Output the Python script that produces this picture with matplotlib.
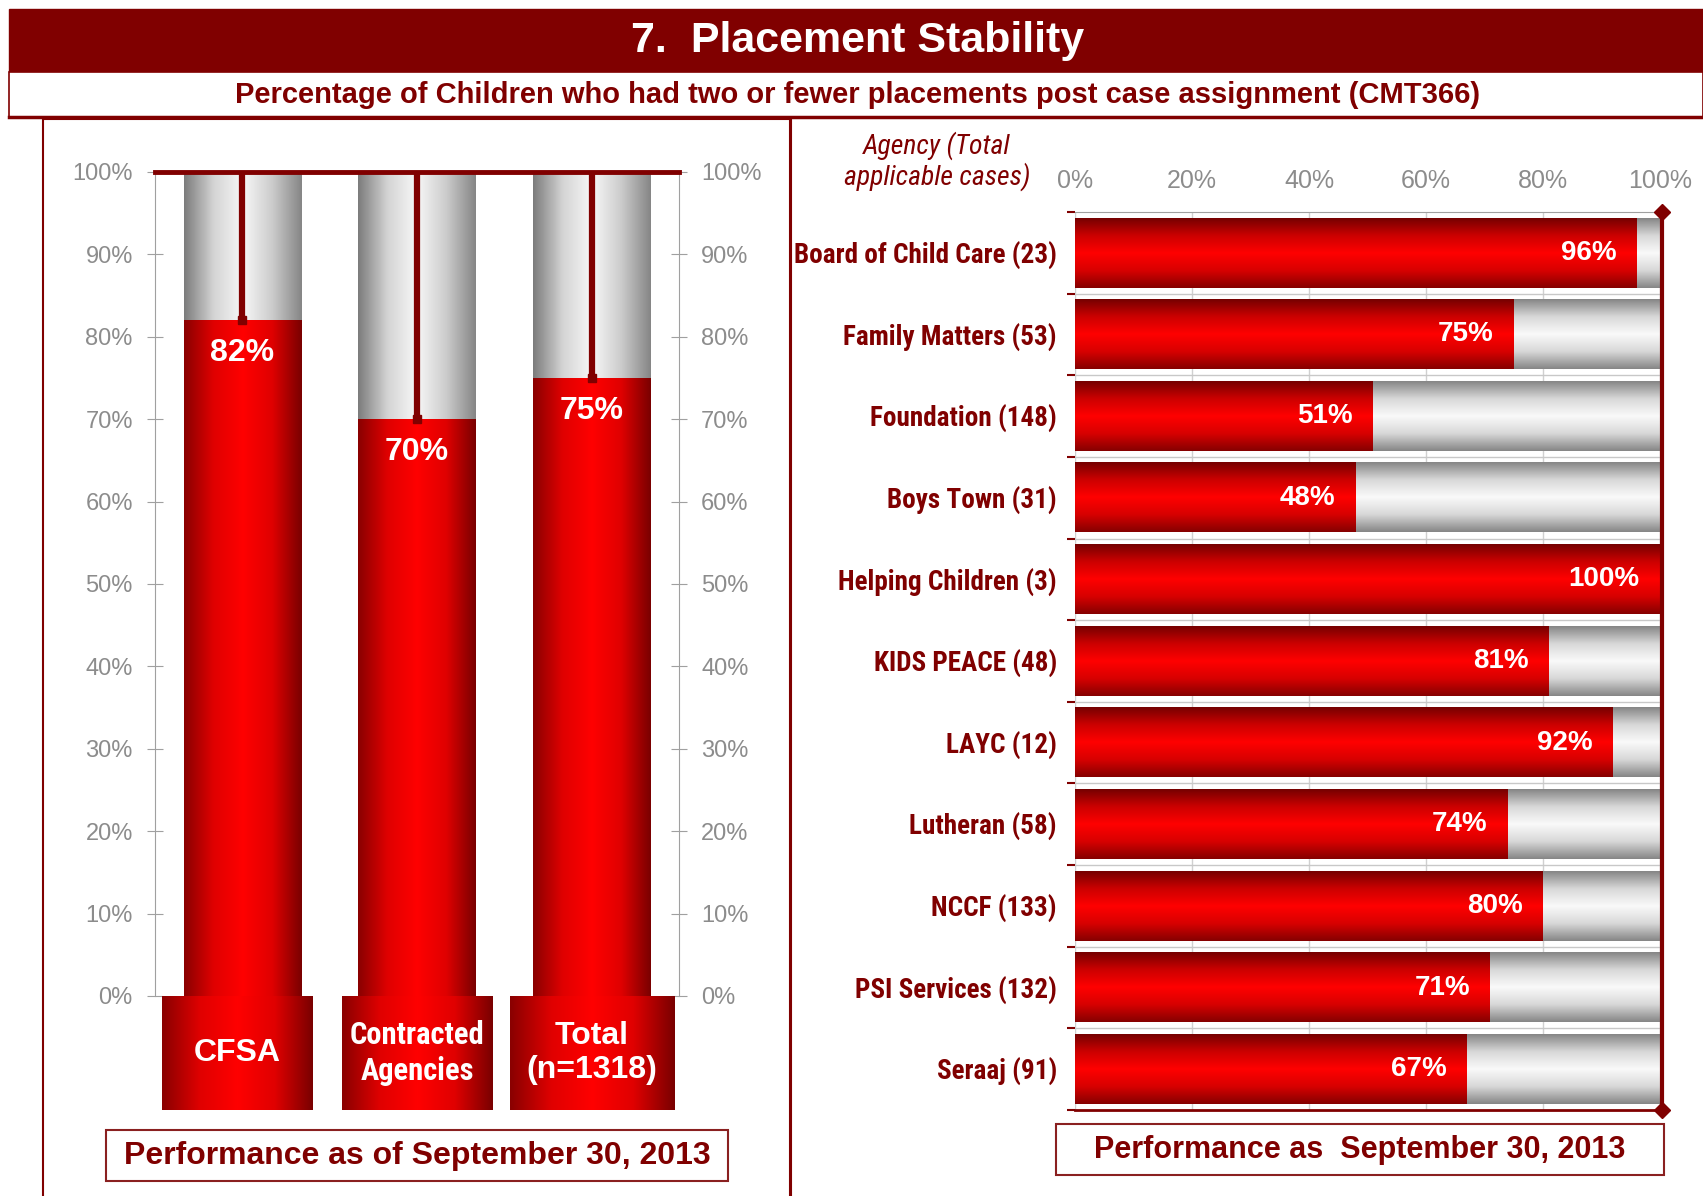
import os
import numpy as np
import matplotlib
matplotlib.use('Agg')
import matplotlib.pyplot as plt
from matplotlib import font_manager as fm
from matplotlib.colors import LinearSegmentedColormap
from matplotlib.patches import Rectangle

# left panel: overall groups
groups = ['CFSA', 'Contracted\nAgencies', 'Total\n(n=1318)']
group_pct = [82, 70, 75]
left_ticks = [0, 10, 20, 30, 40, 50, 60, 70, 80, 90, 100]

# right panel: agencies
agencies = ['Board of Child Care (23)', 'Family Matters (53)', 'Foundation (148)',
            'Boys Town (31)', 'Helping Children (3)', 'KIDS PEACE (48)', 'LAYC (12)',
            'Lutheran (58)', 'NCCF (133)', 'PSI Services (132)', 'Seraaj (91)']
agency_pct = [96, 75, 51, 48, 100, 81, 92, 74, 80, 71, 67]
right_ticks = [0, 20, 40, 60, 80, 100]

title = '7.  Placement Stability'
subtitle = 'Percentage of Children who had two or fewer placements post case assignment (CMT366)'
left_note = 'Performance as of September 30, 2013'
right_note = 'Performance as  September 30, 2013'

DARK = '#800000'
GRAYTXT = '#8c8c8c'
SANS = ['Liberation Sans', 'DejaVu Sans']


def find_narrow():
    # look for a condensed face; fall back to plain sans at a smaller size
    for fam, st in [('Liberation Sans Narrow', 'normal'), ('Roboto Condensed', 'normal'),
                    ('Open Sans Condensed', 'normal'), ('Noto Sans', 'condensed'),
                    ('Open Sans', 'condensed'), ('DejaVu Sans', 'condensed')]:
        try:
            p = fm.findfont(fm.FontProperties(family=fam, stretch=st, weight='bold'),
                            fallback_to_default=False)
        except Exception:
            continue
        name = os.path.basename(p).lower()
        if 'narrow' in name or 'condensed' in name:
            return fam, st, 1.0
    return 'Liberation Sans', 'normal', 0.84


NFAM, NSTRETCH, NSCALE = find_narrow()
NARROW = [NFAM, 'Liberation Sans', 'DejaVu Sans']

W, H = 1703, 1196
fig = plt.figure(figsize=(W / 100, H / 100), dpi=100)

red_h = LinearSegmentedColormap.from_list('rh', ['#8a0000', '#e00000', '#ff0000', '#e00000', '#7a0000'])
gray_h = LinearSegmentedColormap.from_list('gh', ['#7c7c7c', '#d4d4d4', '#f8f8f8', '#cccccc', '#868686'])
red_v = LinearSegmentedColormap.from_list('rv', ['#760000', '#cc0000', '#ff0000', '#d80000', '#860000'])
gray_v = LinearSegmentedColormap.from_list('gv', ['#868686', '#d8d8d8', '#fafafa', '#d8d8d8', '#868686'])


def grad(ax, x0, x1, y0, y1, cmap, along_x, z=2):
    t = np.linspace(0, 1, 128)
    arr = t.reshape(1, -1) if along_x else t.reshape(-1, 1)
    ax.imshow(arr, cmap=cmap, extent=(x0, x1, y0, y1), origin='lower',
              aspect='auto', interpolation='bilinear', zorder=z, clip_on=False)


def px_axes(x0, y0, x1, y1):
    return fig.add_axes([x0 / W, 1 - y1 / H, (x1 - x0) / W, (y1 - y0) / H])


# background decorations in pixel coordinates
bg = fig.add_axes([0, 0, 1, 1], zorder=0)
bg.set_xlim(0, W)
bg.set_ylim(H, 0)
bg.axis('off')
bg.add_patch(Rectangle((9, 9), W - 9, 63, color=DARK))
bg.add_patch(Rectangle((9, 72), W - 9, 45, fc='white', ec=DARK, lw=1.2))
bg.plot([9, W], [117, 117], color=DARK, lw=2.5)
bg.text(858, 41, title, color='white', fontsize=31, fontweight='bold',
        ha='center', va='center', family=SANS)
bg.text(858, 95, subtitle, color=DARK, fontsize=21, fontweight='bold',
        ha='center', va='center', family=SANS)
bg.plot([43, 43, 790, 790], [H + 5, 119, 119, H + 5], color=DARK, lw=1.5)
bg.plot([791, 791], [119, H + 5], color=DARK, lw=1.5)
bg.add_patch(Rectangle((106, 1130), 622, 51, fc='white', ec='#8a2020', lw=1.5))
bg.text(417, 1156, left_note, color=DARK, fontsize=23, fontweight='bold',
        ha='center', va='center', family=SANS)
bg.add_patch(Rectangle((1056, 1124), 608, 51, fc='white', ec='#8a2020', lw=1.5))
bg.text(1360, 1150, right_note, color=DARK, fontsize=22, fontweight='bold',
        ha='center', va='center', family=SANS)
bg.text(937, 161, 'Agency (Total\napplicable cases)', color=DARK, fontsize=20 * NSCALE,
        style='italic', ha='center', va='center', family=NARROW, fontstretch=NSTRETCH,
        linespacing=1.1)

# ---- left panel ----
ax = px_axes(155, 172, 679, 996)
ax.set_zorder(1)
ax.patch.set_alpha(0)
x = np.arange(len(groups))
bw = 0.67
box_w = [0.86, 0.86, 0.94]
box_dx = [-0.03, 0.0, 0.0]
for i, v in enumerate(group_pct):
    grad(ax, i - bw / 2, i + bw / 2, 0, v, red_h, True)
    grad(ax, i - bw / 2, i + bw / 2, v, 100, gray_h, True)
    ax.text(i, v - 4, f'{v}%', color='white', fontsize=23, fontweight='bold',
            ha='center', va='center', family=SANS, zorder=5)
    # label box under the bar
    c = i + box_dx[i]
    grad(ax, c - box_w[i] / 2, c + box_w[i] / 2, -13.8, 0, red_h, True, z=3)
    if i == 1:
        ax.text(c, -6.9, groups[i], color='white', fontsize=22 * NSCALE, fontweight='bold',
                ha='center', va='center', family=NARROW, fontstretch=NSTRETCH,
                zorder=5, linespacing=1.25)
    else:
        ax.text(c, -6.9, groups[i], color='white', fontsize=23, fontweight='bold',
                ha='center', va='center', family=SANS, zorder=5, linespacing=1.2)
ax.vlines(x, group_pct, 100, color=DARK, lw=4.5, zorder=4)
ax.plot(x, group_pct, 's', color=DARK, ms=6, zorder=4)
ax.axhline(100, color=DARK, lw=3.5, zorder=4, clip_on=False)
ax.set_xlim(-0.5, 2.5)
ax.set_ylim(0, 100)
ax.set_xticks([])
ax.set_yticks(left_ticks)
ax.set_yticklabels([f'{t}%' for t in left_ticks])
ax.yaxis.set_ticks_position('both')
ax.tick_params(axis='y', which='both', direction='inout', length=12, color='#a0a0a0',
               labelcolor=GRAYTXT, labelsize=17, labelright=True, pad=10)
for s in ['top', 'bottom']:
    ax.spines[s].set_visible(False)
for s in ['left', 'right']:
    ax.spines[s].set_color('#a0a0a0')
for lab in ax.get_yticklabels():
    lab.set_family(SANS)

# ---- right panel ----
ax2 = px_axes(1075, 212, 1660, 1110)
ax2.set_zorder(1)
ax2.patch.set_alpha(0)
y = np.arange(len(agencies))
bh = 0.85
for i, v in enumerate(agency_pct):
    grad(ax2, 0, v, i - bh / 2, i + bh / 2, red_v, False)
    if v < 100:
        grad(ax2, v, 100, i - bh / 2, i + bh / 2, gray_v, False)
    ax2.text(v - 3.5, i, f'{v}%', color='white', fontsize=20, fontweight='bold',
             ha='right', va='center', family=SANS, zorder=5)
ax2.hlines(y[:-1] + 0.5, 0, 100, color='#c8c8c8', lw=1, zorder=1)
ax2.set_xlim(0, 100)
ax2.set_ylim(len(agencies) - 0.5, -0.5)
ax2.xaxis.tick_top()
ax2.set_xticks(right_ticks)
ax2.set_xticklabels([f'{t}%' for t in right_ticks])
ax2.grid(axis='x', color='#d0d0d0', lw=1, zorder=0)
ax2.set_axisbelow(True)
ax2.set_yticks(y)
ax2.set_yticklabels(agencies)
ax2.set_yticks(np.arange(-0.5, len(agencies), 1), minor=True)
ax2.tick_params(axis='x', length=0, labelcolor=GRAYTXT, labelsize=18, pad=14)
ax2.tick_params(axis='y', which='major', length=0, labelcolor=DARK, labelsize=19.5 * NSCALE, pad=13)
ax2.tick_params(axis='y', which='minor', length=6, color=DARK, width=1.5)
for lab in ax2.get_yticklabels():
    lab.set_fontweight('bold')
    lab.set_family(NARROW)
    lab.set_fontstretch(NSTRETCH)
for lab in ax2.get_xticklabels():
    lab.set_family(SANS)
ax2.spines['top'].set_color('#a0a0a0')
ax2.spines['left'].set_visible(False)
ax2.spines['right'].set_visible(False)
ax2.spines['bottom'].set_color(DARK)
ax2.spines['bottom'].set_linewidth(2)
ax2.plot([100.4, 100.4], [-0.5, len(agencies) - 0.5], color=DARK, lw=3,
         marker='D', ms=8, clip_on=False, zorder=6)

fig.savefig('out.png', dpi=100)
